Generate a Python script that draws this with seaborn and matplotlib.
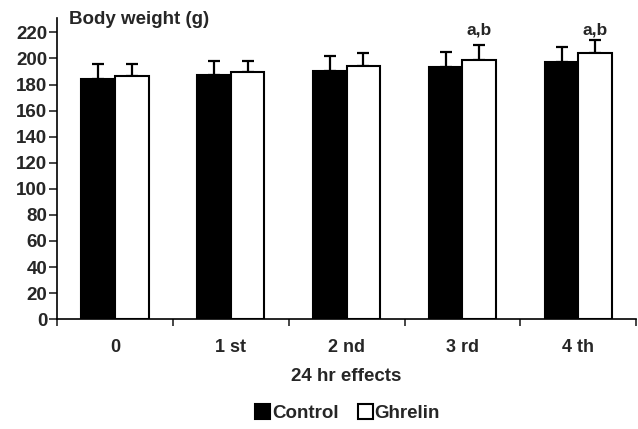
import matplotlib
matplotlib.use("Agg")
import matplotlib.pyplot as plt
import seaborn as sns
import pandas as pd
import numpy as np

categories = ["0", "1 st", "2 nd", "3 rd", "4 th"]
control = [184.5, 187.5, 190.5, 193.5, 197.5]
ghrelin = [186.5, 189.5, 194.0, 199.0, 204.0]
control_err = [11.5, 10.5, 11.5, 11.5, 11.0]
ghrelin_err = [9.5, 8.5, 10.0, 11.0, 10.0]
annotations = ["", "", "", "a,b", "a,b"]
yticks = list(range(0, 221, 20))

sns.set_style("white")
plt.rcParams["font.family"] = ["Liberation Sans", "DejaVu Sans"]
plt.rcParams["font.weight"] = "bold"

df = pd.DataFrame({
    "period": categories * 2,
    "weight": control + ghrelin,
    "group": ["Control"] * 5 + ["Ghrelin"] * 5,
})

fig = plt.figure(figsize=(6.38, 4.29), dpi=100)
ax = fig.add_axes([0.0893, 0.256, 0.908, 0.702])

sns.barplot(data=df, x="period", y="weight", hue="group", order=categories,
            hue_order=["Control", "Ghrelin"], palette=["black", "white"],
            edgecolor="black", linewidth=1.5, width=0.58, errorbar=None,
            legend=False, ax=ax)

patches = ax.patches[:10]
ctrl_patches = patches[:5]
ghr_patches = patches[5:]
for plist, vals, errs in [(ctrl_patches, control, control_err), (ghr_patches, ghrelin, ghrelin_err)]:
    xs = [p.get_x() + p.get_width() / 2 for p in plist]
    ax.errorbar(xs, vals, yerr=[np.zeros(len(errs)), errs], fmt="none",
                ecolor="black", elinewidth=1.6, capsize=4, capthick=1.6, zorder=0)

for p, txt in zip(ghr_patches, annotations):
    if txt:
        ax.text(p.get_x() + p.get_width() / 2, 222, txt, ha="center", va="center",
                fontsize=12.5, fontweight="bold")

ax.set_xlim(-0.5, 4.5)
ax.set_ylim(0, 231)
ax.set_yticks(yticks)
ax.set_yticklabels([str(t) for t in yticks], fontsize=13.5, fontweight="bold")
ax.set_xticks(np.arange(-0.5, 5, 1.0))
ax.set_xticklabels([])
ax.set_xticks(range(5), minor=True)
ax.set_xticklabels(categories, minor=True, fontsize=13, fontweight="bold")
ax.tick_params(axis="x", which="major", direction="out", length=5, width=1.2, bottom=True)
ax.tick_params(axis="x", which="minor", length=0, pad=14)
ax.tick_params(axis="y", direction="out", length=6, width=1.2, left=True, pad=1)
for s in ["top", "right"]:
    ax.spines[s].set_visible(False)
for s in ["left", "bottom"]:
    ax.spines[s].set_linewidth(1.2)
    ax.spines[s].set_color("black")
ax.set_xlabel("24 hr effects", fontsize=13.5, fontweight="bold", labelpad=9)
ax.set_ylabel("")
fig.text(0.108, 0.955, "Body weight (g)", fontsize=13.5, fontweight="bold", va="center", ha="left")

handles = [ctrl_patches[0], ghr_patches[0]]
fig.legend(handles, ["Control", "Ghrelin"], loc="center", bbox_to_anchor=(0.545, 0.037),
           ncol=2, frameon=False, handlelength=0.8, handleheight=0.8, handletextpad=0.1,
           columnspacing=1.0, prop={"size": 13.5, "weight": "bold"})

fig.savefig("out.png", dpi=100)
